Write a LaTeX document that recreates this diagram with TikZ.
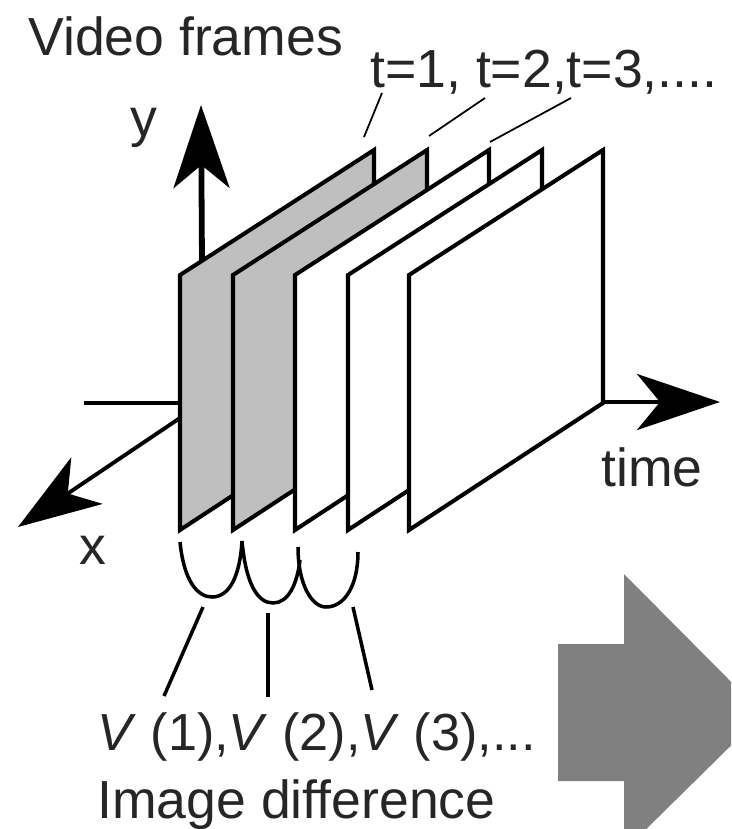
\documentclass[tikz,border=0pt]{standalone}
\usepackage{fontspec}
\setmainfont{Liberation Sans}
\usetikzlibrary{arrows.meta}

\begin{document}
\begin{tikzpicture}[
    x=0.02cm, y=-0.02cm,
    lbl/.style={anchor=base west, inner sep=0pt, font=\fontsize{30.5}{36}\selectfont, text=black!85},
    axis/.style={-{Stealth[length=1.66cm, width=1.12cm, inset=0.46cm]}},
    frm/.style={draw, line width=2.3pt, line join=miter},
    leader/.style={line width=1pt},
    bowl/.style={line width=2pt},
    tick/.style={line width=2pt}
  ]
  \useasboundingbox (0,0) rectangle (731,829);

  % Axes behind the frames
  \coordinate (ybot) at (202,262);
  \coordinate (ytop) at (201,105);
  \coordinate (xbot) at (180,418);
  \coordinate (xtip) at (18,527);
  \coordinate (tleft) at (84,403);
  \coordinate (tmid) at (200,403);
  \coordinate (tstart) at (603,402);
  \coordinate (ttip) at (720,402);
  \draw[axis, line width=3.3pt] (ybot) -- (ytop);
  \draw[axis, line width=2.2pt] (xbot) -- (xtip);
  \draw[line width=2.8pt] (tleft) -- (tmid);
  \draw[axis, line width=2.6pt] (tstart) -- (ttip);

  % Frames, back to front
  \foreach \px [count=\i from 1] in {180,233,295,348,409} {
    \pgfmathsetmacro{\fillcol}{\i <= 2 ? "black!25" : "white"}
    \draw[frm, fill=\fillcol] (\px,275) -- (\px+194,150) -- (\px+194,403)
      -- (\px,530) -- cycle;
  }

  % Labels
  \node[lbl] (title) at (28,55) {Video frames};
  \node[lbl] (times) at (370,87) {t=1, t=2,t=3,....};
  \node[lbl] (ylbl) at (130,136) {y};
  \node[lbl] (tlbl) at (601,486) {time};
  \node[lbl] (xlbl) at (79,564) {x};
  \node[lbl, font=\fontsize{29.7}{36}\selectfont] (vlbl) at (97,750)
    {\textit{V} (1),\textit{V} (2),\textit{V} (3),...};
  \node[lbl] (imgd) at (97,818) {Image difference};

  % Leaders from the times to the frames
  \coordinate (ta) at (382,93);
  \coordinate (tb) at (364,137);
  \coordinate (tc) at (485,98);
  \coordinate (td) at (429,136);
  \coordinate (te) at (571,98);
  \coordinate (tf) at (490,142);
  \draw[leader] (ta) -- (tb);
  \draw[leader] (tc) -- (td);
  \draw[leader] (te) -- (tf);

  % Bowls between the frames
  \coordinate (u1) at (180,542);
  \coordinate (u2) at (242,541);
  \coordinate (u3) at (300,560);
  \coordinate (u4) at (298,547);
  \coordinate (u5) at (358,552);
  \draw[bowl] (u1) .. controls (184,582) and (198,597) .. (212,597)
    .. controls (230,597) and (240,575) .. (u2);
  \draw[bowl] (u2) .. controls (246,585) and (258,603) .. (273,603)
    .. controls (288,603) and (297,585) .. (u3);
  \draw[bowl] (u4) .. controls (298,585) and (312,607) .. (326,607)
    .. controls (345,607) and (358,585) .. (u5);

  % Ticks down to the value label
  \coordinate (va) at (203,607);
  \coordinate (vb) at (164,696);
  \coordinate (vc) at (268,613);
  \coordinate (vd) at (268,697);
  \coordinate (ve) at (353,607);
  \coordinate (vf) at (372,690);
  \draw[tick] (va) -- (vb);
  \draw[line width=2.8pt] (vc) -- (vd);
  \draw[tick] (ve) -- (vf);

  % Big arrow, cut by the page edge
  \clip (0,0) rectangle (731,829);
  \fill[black!50] (558,644) -- (624,644) -- (624,574) -- (763,714)
    -- (624,851) -- (624,781) -- (558,781) -- cycle;
\end{tikzpicture}
\end{document}
